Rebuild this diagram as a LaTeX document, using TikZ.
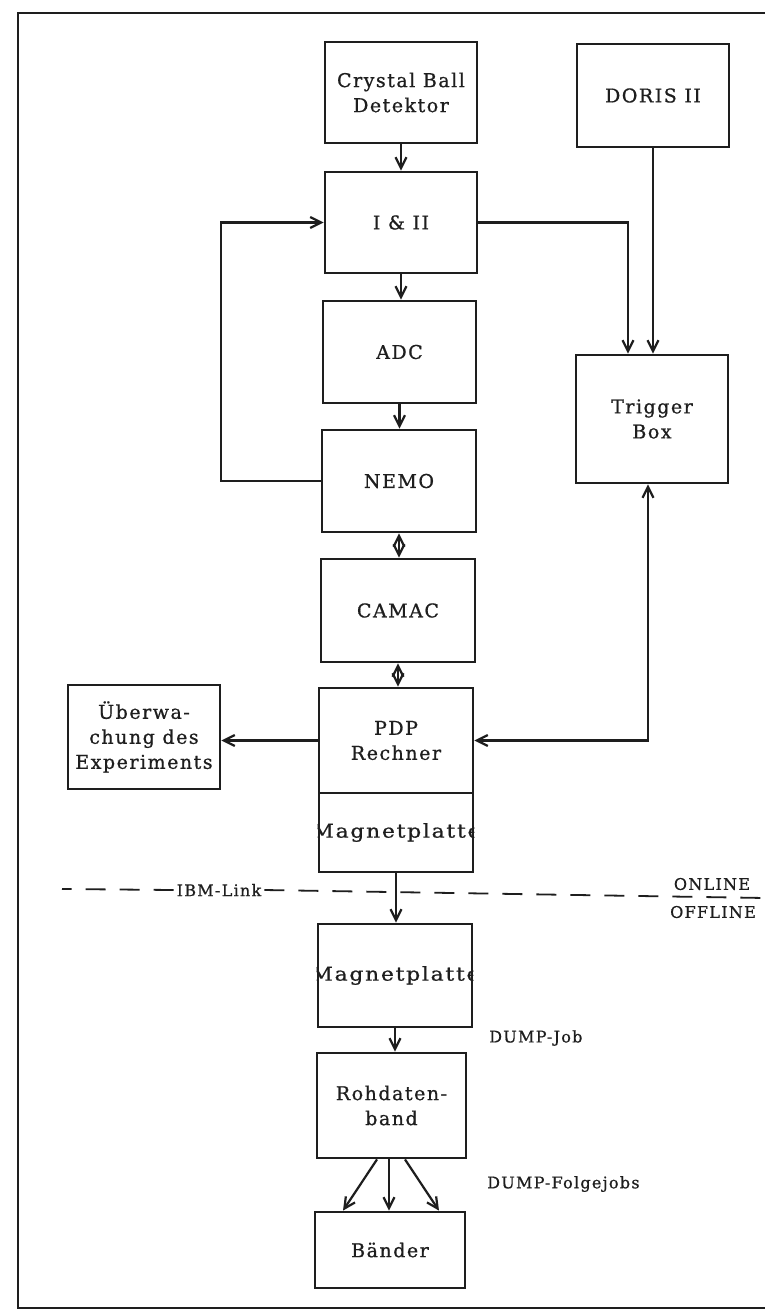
\documentclass[tikz,border=0pt]{standalone}
\usepackage{fontspec}
\setmainfont{DejaVu Serif}[LetterSpace=8, FakeBold=0.8]
\usetikzlibrary{arrows.meta}
\definecolor{ink}{RGB}{30,30,30}
\begin{document}
\begin{tikzpicture}[x=1pt,y=-1pt,
  box/.style={draw=ink, line width=2.8pt, inner sep=0pt, align=center, text=ink,
              font=\fontsize{19}{25}\selectfont},
  boxtext/.style={inner sep=0pt, text=ink, font=\fontsize{19}{25}\selectfont},
  lbl/.style={inner sep=1pt, text=ink, font=\fontsize{16}{20}\selectfont},
  arr/.style={draw=ink, line width=2.2pt, -{Straight Barb[length=11pt,width=11pt]}},
  darr/.style={draw=ink, line width=2.2pt, {Straight Barb[length=11pt,width=11pt]}-{Straight Barb[length=11pt,width=11pt]}},
  frameline/.style={draw=ink, line width=2pt},
  ibmline/.style={draw=ink, line width=1.8pt, dash pattern=on 20pt off 14pt}]
\useasboundingbox (0,0) rectangle (765,1315);
\fill[white] (0,0) rectangle (765,1315);
\draw[frameline] (765,13) -- (18,13) -- (18,1308) -- (765,1308);

% main column
\node[box, minimum width=152pt, minimum height=101pt] (cb) at (401,92.5) {Crystal Ball\\Detektor};
\node[box, minimum width=152pt, minimum height=101pt] (ii) at (401,222.5) {I \& II};
\node[box, minimum width=153pt, minimum height=102pt] (adc) at (399.5,352) {ADC};
\node[box, minimum width=154pt, minimum height=102pt] (nemo) at (399,481) {NEMO};
\node[box, minimum width=154pt, minimum height=103pt] (camac) at (398,610.5) {CAMAC};
\node[box, minimum width=154pt, minimum height=105pt] (pdp) at (396,740.5) {PDP\\Rechner};
\node[box, minimum width=154pt, minimum height=79pt] (mag1) at (396,832.5) {};
\node[box, minimum width=152pt, minimum height=104pt] (ueb) at (144,737) {Überwa-\\chung des\\Experiments};
\node[box, minimum width=154pt, minimum height=103pt] (mag2) at (395,975.5) {};
\node[box, minimum width=149pt, minimum height=105pt] (roh) at (391.5,1105.5) {Rohdaten-\\band};
\node[box, minimum width=150pt, minimum height=76pt] (baender) at (390,1250) {Bänder};
% right column
\node[box, minimum width=152pt, minimum height=103pt] (doris) at (653,95.5) {DORIS II};
\node[box, minimum width=152pt, minimum height=128pt] (trig) at (652,419) {Trigger\\Box};

% clipped disk labels
\begin{scope}
  \clip (mag1.south west) rectangle (mag1.north east);
  \node[boxtext, xscale=1.15] (mag1t) at (mag1.center) {Magnetplatte};
\end{scope}
\begin{scope}
  \clip (mag2.south west) rectangle (mag2.north east);
  \node[boxtext, xscale=1.15] (mag2t) at (mag2.center) {Magnetplatte};
\end{scope}

% connectors
\draw[arr] (cb.south) -- (ii.north);
\draw[arr] (ii.south) -- (ii.south |- adc.north);
\draw[arr] (adc.south) -- (adc.south |- nemo.north);
\draw[darr] (nemo.south) -- (nemo.south |- camac.north);
\draw[darr] (camac.south) -- (camac.south |- pdp.north);
\draw[arr] (mag1.south) -- (mag1.south |- mag2.north);
\draw[arr] (mag2.south) -- (mag2.south |- roh.north);
\draw[arr] ([xshift=-14.5pt]roh.south) -- ([xshift=-47pt]baender.north);
\draw[arr] ([xshift=-2.5pt]roh.south) -- ([xshift=-1pt]baender.north);
\draw[arr] ([xshift=13.5pt]roh.south) -- ([xshift=49pt]baender.north);
\draw[arr] (nemo.west) -- ++(-100,0) |- (ii.west);
\draw[arr] (ii.east) -| ([xshift=-24pt]trig.north);
\draw[arr] (doris.south) -- (doris.south |- trig.north);
\draw[darr] (pdp.east) -| ([xshift=-4pt]trig.south);
\draw[arr] (pdp.west) -- (pdp.west -| ueb.east);

% online / offline boundary
\node[lbl, inner xsep=3pt] (ibm) at (219,890) {IBM-Link};
\coordinate (dl) at (62,889);
\coordinate (dr) at (765,898);
\draw[ibmline] (ibm.west) -- (dl);
\draw[ibmline] (ibm.east) -- (dr);
\node[lbl, fill=white, inner sep=0pt] (online) at (712,884) {ONLINE};
\node[lbl, fill=white, inner sep=0pt] (offline) at (713,912) {OFFLINE};

% job labels
\node[lbl, anchor=west] (dj) at (488,1038) {DUMP-Job};
\node[lbl, anchor=west] (dfj) at (486,1184) {DUMP-Folgejobs};
\end{tikzpicture}
\end{document}
